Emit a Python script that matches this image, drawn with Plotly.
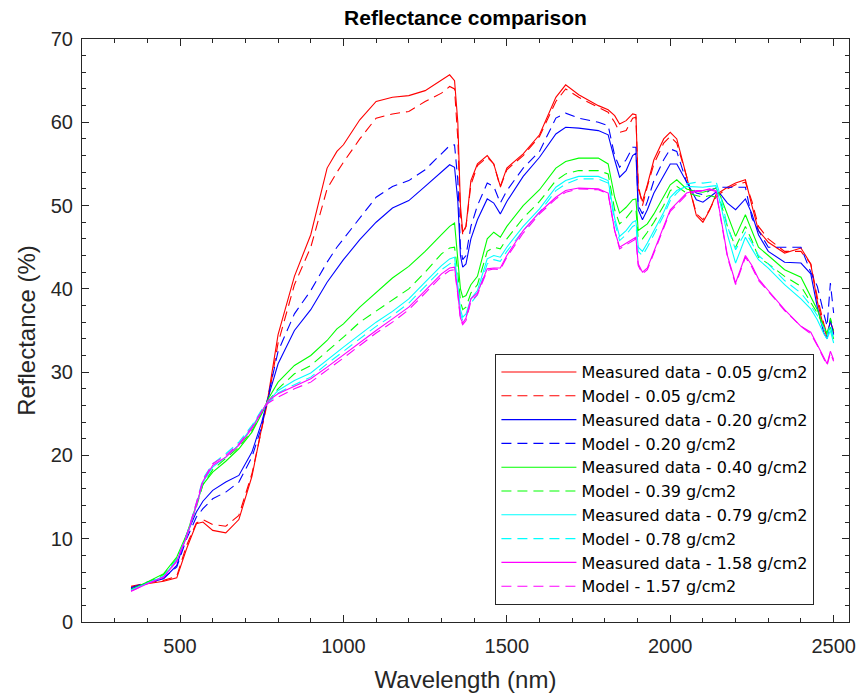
import plotly.graph_objects as go

wavelength = [350, 400, 450, 490, 520, 550, 570, 600, 640, 680, 720, 750, 770, 800, 850,
              900, 950, 980, 1000, 1050, 1100, 1150, 1200, 1250, 1300, 1325, 1340, 1350, 1358, 1365,
              1375, 1390, 1410, 1440, 1460, 1480, 1500, 1550, 1600, 1650, 1680, 1720, 1780, 1810, 1830,
              1845, 1865, 1885, 1895, 1902, 1915, 1930, 1950, 1980, 2000, 2020, 2050, 2080, 2100, 2120,
              2140, 2155, 2175, 2200, 2230, 2250, 2270, 2300, 2350, 2400, 2430, 2450, 2470, 2480, 2490, 2500]

meas_005 = [4.2, 4.6, 4.9, 5.3, 8.8, 11.8, 12.0, 11.0, 10.7, 12.3, 17.5, 23.5, 27.2, 34.5, 41.5,
            46.5, 54.5, 56.5, 57.3, 60.3, 62.5, 63.0, 63.2, 63.8, 65.0, 65.7, 65.0, 60.0, 50.0, 46.8,
            47.5, 53.0, 55.0, 56.0, 55.0, 52.3, 54.5, 56.2, 58.5, 63.0, 64.5, 63.3, 62.0, 61.5, 60.8,
            59.8, 60.2, 61.0, 60.9, 52.0, 50.5, 52.5, 55.5, 58.0, 58.8, 58.0, 53.5, 48.8, 48.0, 49.4,
            51.3, 51.7, 52.2, 52.7, 53.1, 50.0, 47.0, 45.6, 44.3, 44.9, 43.0, 38.5, 35.3, 34.2, 36.2, 34.7]
model_005 = [4.3, 4.7, 5.0, 5.5, 9.2, 11.9, 12.3, 11.7, 11.5, 12.8, 17.8, 23.0, 26.8, 33.5, 40.5,
             45.0, 52.0, 54.0, 55.2, 58.0, 60.5, 61.0, 61.3, 62.5, 63.5, 64.3, 64.0, 58.0, 49.0, 46.5,
             47.5, 52.5, 54.8, 55.8, 55.0, 52.2, 54.3, 56.0, 58.3, 62.5, 64.0, 63.0, 61.8, 61.2, 60.0,
             58.8, 59.0, 60.5, 60.6, 52.5, 50.0, 52.3, 55.0, 57.5, 58.3, 57.5, 53.5, 49.0, 48.3, 49.5,
             51.0, 51.5, 52.0, 52.5, 52.8, 50.5, 47.5, 46.0, 44.5, 44.5, 43.0, 39.0, 35.8, 34.5, 36.0, 35.0]
meas_020 = [4.0, 4.7, 5.2, 6.8, 10.5, 13.2, 14.5, 15.8, 16.8, 17.6, 20.4, 24.0, 27.0, 31.0, 35.0,
            37.5, 40.8, 42.5, 43.5, 45.9, 48.0, 49.7, 50.6, 52.3, 54.0, 54.9, 54.6, 50.5, 44.0, 42.6,
            43.0, 46.0, 48.3, 50.8, 50.3, 49.0, 50.5, 53.5, 55.8, 58.6, 59.4, 59.3, 59.0, 58.5, 55.5,
            53.4, 54.2, 56.0, 56.3, 49.5, 48.3, 49.5, 51.5, 53.5, 55.0, 55.0, 52.8, 50.7, 50.4, 51.0,
            51.6, 51.3, 50.3, 49.5, 50.8, 49.0, 46.5, 44.5, 43.2, 43.1, 41.8, 37.8, 34.7, 34.0, 36.3, 34.5]
model_020 = [4.1, 4.8, 5.3, 6.6, 10.0, 12.6, 13.6, 14.8, 15.6, 16.8, 19.8, 23.5, 27.2, 32.5, 37.0,
             39.8, 43.2, 45.0, 46.0, 48.5, 51.0, 52.3, 53.0, 54.3, 56.2, 57.2, 57.3, 53.0, 45.0, 43.5,
             44.0, 47.5, 50.0, 52.7, 52.3, 50.3, 51.8, 54.5, 56.5, 60.5, 61.1, 60.5, 60.0, 59.6, 56.0,
             54.6, 55.5, 57.0, 57.0, 50.0, 49.0, 50.5, 53.0, 55.5, 56.8, 56.5, 52.8, 51.5, 51.3, 51.8,
             52.1, 52.2, 52.2, 52.2, 52.2, 48.5, 47.0, 45.0, 45.0, 45.0, 42.0, 40.3, 37.0, 35.5, 40.7, 37.1]
meas_040 = [3.9, 4.8, 5.8, 7.8, 10.5, 14.0, 16.5, 18.0, 19.3, 20.8, 22.8, 25.0, 26.8, 28.8, 30.8,
            32.0, 33.8, 35.2, 35.8, 37.8, 39.5, 41.3, 42.7, 44.5, 46.5, 47.5, 47.9, 44.0, 40.0, 39.0,
            39.2, 40.5, 41.5, 46.0, 46.8, 46.2, 47.5, 50.0, 51.9, 54.5, 55.3, 55.7, 55.7, 55.0, 51.0,
            49.1, 49.8, 50.7, 50.8, 47.0, 47.4, 47.8, 49.0, 51.0, 52.5, 53.1, 52.0, 51.7, 51.6, 51.8,
            52.1, 51.0, 48.8, 46.3, 48.9, 47.0, 45.0, 44.0, 42.3, 41.4, 39.0, 37.5, 35.4, 34.7, 35.4, 34.0]
model_039 = [3.8, 4.8, 5.7, 7.6, 10.4, 13.8, 16.5, 18.3, 19.6, 21.0, 23.0, 25.0, 26.5, 28.0, 29.8,
             30.8, 32.5, 33.5, 34.2, 36.0, 37.3, 38.6, 40.0, 42.0, 44.2, 44.9, 45.0, 42.0, 38.5, 37.5,
             37.8, 39.5, 40.5, 44.5, 45.0, 44.8, 46.0, 48.5, 50.5, 53.0, 53.8, 54.2, 54.2, 53.8, 49.5,
             47.8, 48.5, 49.5, 49.6, 46.0, 46.0, 46.8, 48.0, 50.0, 51.8, 52.3, 51.5, 51.2, 51.0, 51.2,
             51.0, 50.3, 47.5, 45.0, 47.5, 45.8, 43.8, 43.0, 41.5, 40.3, 38.3, 37.1, 35.5, 34.5, 36.5, 35.0]
meas_079 = [3.8, 4.7, 5.5, 7.4, 10.2, 14.0, 16.8, 18.6, 19.8, 21.3, 23.4, 25.3, 26.5, 27.8, 29.0,
            29.9, 31.5, 32.4, 33.0, 34.5, 36.0, 37.3, 38.8, 40.8, 42.8, 43.6, 43.8, 40.5, 37.5, 36.6,
            37.0, 38.8, 39.8, 43.6, 44.0, 43.8, 45.0, 47.5, 49.6, 52.2, 53.0, 53.5, 53.5, 53.0, 48.5,
            46.3, 47.0, 48.0, 48.2, 45.0, 44.5, 45.5, 47.0, 49.2, 51.0, 51.8, 52.3, 52.2, 52.2, 52.3,
            52.4, 50.0, 46.5, 43.1, 46.2, 44.8, 43.5, 42.5, 40.5, 38.8, 37.6, 36.3, 34.6, 34.0, 35.0, 33.5]
model_078 = [3.8, 4.7, 5.5, 7.5, 10.4, 14.3, 17.2, 19.0, 20.2, 21.6, 23.6, 25.5, 26.3, 27.5, 28.5,
             29.4, 31.0, 31.9, 32.5, 34.0, 35.5, 36.8, 38.3, 40.3, 42.3, 43.0, 43.3, 40.0, 37.0, 36.2,
             36.6, 38.3, 39.3, 43.0, 43.5, 43.3, 44.5, 47.0, 49.2, 51.8, 52.6, 53.2, 53.2, 52.7, 48.0,
             45.8, 46.5, 47.5, 47.7, 44.5, 44.0, 45.0, 46.5, 48.8, 50.6, 51.5, 52.6, 52.8, 52.7, 52.8,
             52.9, 51.0, 47.5, 44.7, 46.8, 45.5, 44.0, 43.0, 41.0, 39.5, 38.0, 36.8, 35.3, 34.3, 35.8, 34.0]
meas_158 = [3.7, 4.6, 5.4, 7.3, 10.2, 14.0, 16.9, 18.8, 19.8, 21.2, 23.2, 25.3, 26.6, 27.4, 28.3,
            29.2, 30.6, 31.5, 32.0, 33.5, 35.0, 36.4, 37.8, 39.8, 41.8, 42.5, 42.6, 39.5, 36.5, 35.9,
            36.5, 38.8, 39.5, 42.4, 42.5, 42.5, 44.0, 47.0, 49.2, 51.0, 51.8, 52.1, 52.0, 51.5, 47.0,
            45.0, 45.5, 46.0, 46.2, 43.0, 42.0, 42.5, 44.5, 47.5, 49.5, 50.3, 51.5, 51.8, 51.8, 52.0,
            51.8, 48.5, 44.0, 40.7, 44.0, 42.8, 41.2, 39.8, 37.5, 35.5, 34.8, 33.3, 31.8, 31.0, 32.5, 31.5]
model_157 = [3.7, 4.6, 5.4, 7.3, 10.3, 14.2, 17.0, 19.0, 20.0, 21.4, 23.4, 25.3, 26.3, 27.0, 28.0,
             28.8, 30.2, 31.1, 31.7, 33.2, 34.7, 36.0, 37.5, 39.5, 41.5, 42.2, 42.3, 39.3, 36.3, 35.7,
             36.2, 38.5, 39.3, 42.2, 42.4, 42.3, 43.8, 46.7, 49.0, 50.8, 51.6, 52.0, 51.9, 51.4, 47.0,
             44.8, 45.3, 45.8, 46.0, 42.8, 41.8, 42.3, 44.3, 47.3, 49.3, 50.1, 51.3, 51.7, 51.7, 51.9,
             51.7, 48.3, 43.8, 40.5, 43.8, 42.6, 41.0, 39.7, 37.4, 35.5, 34.6, 33.2, 31.7, 30.8, 32.3, 31.3]

series = [
    ("Measured data - 0.05 g/cm2", meas_005, "#ff0000", "solid"),
    ("Model - 0.05 g/cm2", model_005, "#ff0000", "10px,6px"),
    ("Measured data - 0.20 g/cm2", meas_020, "#0000ff", "solid"),
    ("Model - 0.20 g/cm2", model_020, "#0000ff", "10px,6px"),
    ("Measured data - 0.40 g/cm2", meas_040, "#00ff00", "solid"),
    ("Model - 0.39 g/cm2", model_039, "#00ff00", "10px,6px"),
    ("Measured data - 0.79 g/cm2", meas_079, "#00ffff", "solid"),
    ("Model - 0.78 g/cm2", model_078, "#00ffff", "10px,6px"),
    ("Measured data - 1.58 g/cm2", meas_158, "#ff00ff", "solid"),
    ("Model - 1.57 g/cm2", model_157, "#ff00ff", "10px,6px"),
]

fig = go.Figure()
for name, vals, color, dash in series:
    fig.add_trace(go.Scatter(x=wavelength, y=vals, mode="lines", name=name,
                             line=dict(color=color, width=1.1, dash=dash)))

axis_color = "#262626"
font_family = "Liberation Sans, Arial, Helvetica, sans-serif"
common_axis = dict(showgrid=False, zeroline=False, showline=True, mirror="allticks",
                   linecolor=axis_color, linewidth=1, ticks="inside", ticklen=7,
                   automargin=False,
                   tickcolor=axis_color, tickfont=dict(size=20, color=axis_color, family=font_family))

fig.update_layout(
    width=862, height=696,
    margin=dict(l=82, r=13, t=39, b=74),
    paper_bgcolor="white", plot_bgcolor="white",
    font=dict(family=font_family, color=axis_color),
    title=dict(text="<b>Reflectance comparison</b>", x=0.54, xanchor="center",
               y=1 - 18 / 696, yanchor="middle", yref="container",
               font=dict(size=21, color="#000000", family=font_family)),
    xaxis=dict(range=[200, 2547], tickvals=[500, 1000, 1500, 2000, 2500],
               ticklabelstandoff=6,
               minor=dict(dtick=100, tick0=0, ticks="inside", ticklen=4, tickcolor=axis_color),
               title=dict(text="Wavelength (nm)", font=dict(size=24, color=axis_color), standoff=15),
               **common_axis),
    yaxis=dict(range=[0, 70], tickvals=[0, 10, 20, 30, 40, 50, 60, 70],
               ticklabelstandoff=4,
               minor=dict(dtick=2, tick0=0, ticks="inside", ticklen=4, tickcolor=axis_color),
               title=dict(text="Reflectance (%)", font=dict(size=24, color=axis_color), standoff=8),
               **common_axis),
    legend=dict(x=0.539, y=0.4595, xanchor="left", yanchor="top",
                bgcolor="white", bordercolor=axis_color, borderwidth=1,
                font=dict(size=16, color="#000000", family="DejaVu Sans, Liberation Sans, sans-serif"),
                tracegroupgap=0, itemwidth=75),
    showlegend=True,
)

fig.write_html("out.html")
